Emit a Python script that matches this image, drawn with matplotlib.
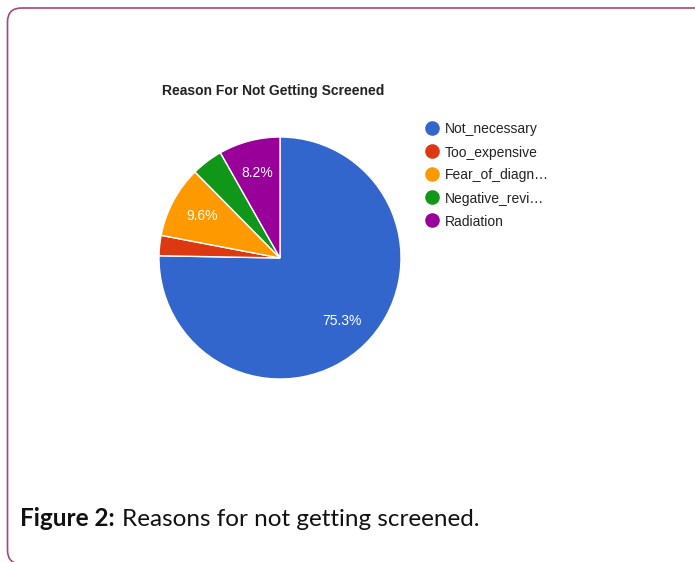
import matplotlib.pyplot as plt
from matplotlib.patches import FancyBboxPatch

# data
labels = ["Not_necessary", "Too_expensive", "Fear_of_diagn…", "Negative_revi…", "Radiation"]
shares = [75.3, 2.7, 9.6, 4.2, 8.2]
colors = ["#3366cc", "#dc3912", "#ff9900", "#109618", "#990099"]

W, H = 695, 562
fig = plt.figure(figsize=(W / 100, H / 100), dpi=100)
ax = fig.add_axes([0, 0, 1, 1])

# pie (pixel coords, y flipped)
cx, cy, r = 280, H - 258, 121
wedges, texts, autotexts = ax.pie(
    shares, colors=colors, startangle=90, counterclock=False,
    center=(cx, cy), radius=r, frame=True,
    autopct=lambda p: f"{p:.1f}%" if p > 5 else "", pctdistance=0.73,
    wedgeprops=dict(edgecolor="white", linewidth=1),
    textprops=dict(color="white", fontsize=10, family="Liberation Sans"))
ax.set_xlim(0, W)
ax.set_ylim(0, H)
ax.set_aspect("equal")
ax.axis("off")

# rounded frame around the figure
frame = FancyBboxPatch((7.5, -2), W + 20, H - 6, boxstyle="round,pad=0,rounding_size=14",
                       fc="none", ec="#a8447f", lw=1.2, clip_on=False)
ax.add_patch(frame)

ax.text(273, H - 91, "Reason For Not Getting Screened", ha="center", va="center",
        fontsize=10, fontweight="bold", family="Liberation Sans", color="#222222")

# legend
for i, (lab, col) in enumerate(zip(labels, colors)):
    y = H - (128 + 23 * i)
    ax.scatter([432], [y], s=90, color=col, zorder=3)
    ax.text(445, y - 1.5, lab, va="center", ha="left", fontsize=10,
            family="Liberation Sans", color="#222222")

# caption
fig.canvas.draw()
t1 = ax.text(20, H - 519, "Figure 2:", fontsize=17.5, fontweight="bold", family="Lato",
             va="center", ha="left", color="#111111")
bb = t1.get_window_extent(fig.canvas.get_renderer())
ax.text(bb.x1 + 7, H - 519, "Reasons for not getting screened.", fontsize=17.5, family="Lato",
        va="center", ha="left", color="#111111")

fig.savefig("out.png", dpi=100)
